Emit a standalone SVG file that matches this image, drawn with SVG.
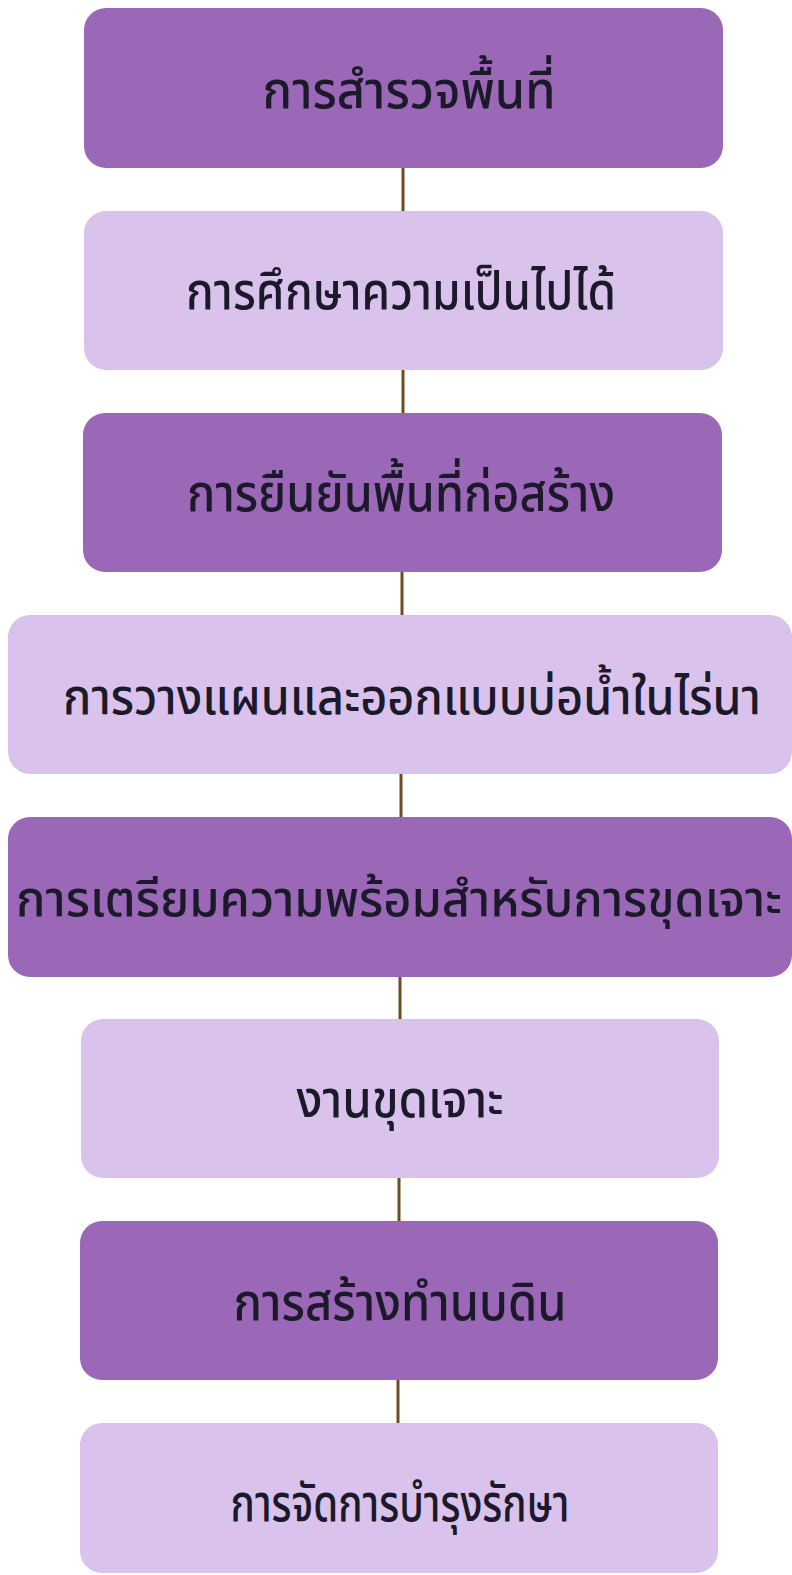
<svg xmlns="http://www.w3.org/2000/svg" width="792" height="1575" viewBox="0 0 792 1575">
<style>
.dark{fill:#9a68b6}
.light{fill:#d9c3ec}
.t{font-family:"Noto Sans Thai","Noto Sans","DejaVu Sans",sans-serif;font-size:52px;font-weight:500;fill:#1c1a2a;text-anchor:middle}
.w{font-size:49px}
.c{stroke:#6e4d22;stroke-width:3}
</style>
<rect width="792" height="1575" fill="#ffffff"/>
<g id="connectors">
<line class="c" x1="403" y1="168" x2="403" y2="211"/>
<line class="c" x1="403" y1="370" x2="403" y2="413"/>
<line class="c" x1="402" y1="572" x2="402" y2="615"/>
<line class="c" x1="401" y1="774" x2="401" y2="817"/>
<line class="c" x1="400" y1="977" x2="400" y2="1019"/>
<line class="c" x1="399" y1="1178" x2="399" y2="1221"/>
<line class="c" x1="398" y1="1380" x2="398" y2="1423"/>
</g>
<g id="n1"><rect class="dark" x="84" y="8" width="639" height="160" rx="22"/><text class="t" x="409" y="108" textLength="293" lengthAdjust="spacingAndGlyphs">การสำรวจพื้นที่</text></g>
<g id="n2"><rect class="light" x="84" y="211" width="639" height="159" rx="22"/><text class="t" x="401" y="309" textLength="430" lengthAdjust="spacingAndGlyphs">การศึกษาความเป็นไปได้</text></g>
<g id="n3"><rect class="dark" x="83" y="413" width="639" height="159" rx="22"/><text class="t" x="401" y="511" textLength="428" lengthAdjust="spacingAndGlyphs">การยืนยันพื้นที่ก่อสร้าง</text></g>
<g id="n4"><rect class="light" x="8" y="615" width="784" height="159" rx="22"/><text class="t w" x="412" y="714" textLength="698" lengthAdjust="spacingAndGlyphs">การวางแผนและออกแบบบ่อน้ำในไร่นา</text></g>
<g id="n5"><rect class="dark" x="8" y="817" width="784" height="160" rx="22"/><text class="t w" x="399" y="916" textLength="766" lengthAdjust="spacingAndGlyphs">การเตรียมความพร้อมสำหรับการขุดเจาะ</text></g>
<g id="n6"><rect class="light" x="81" y="1019" width="638" height="159" rx="22"/><text class="t" x="400" y="1117" textLength="207" lengthAdjust="spacingAndGlyphs">งานขุดเจาะ</text></g>
<g id="n7"><rect class="dark" x="80" y="1221" width="638" height="159" rx="22"/><text class="t" x="400" y="1320" textLength="333" lengthAdjust="spacingAndGlyphs">การสร้างทำนบดิน</text></g>
<g id="n8"><rect class="light" x="80" y="1423" width="638" height="150" rx="22"/><text class="t" x="400" y="1521" textLength="339" lengthAdjust="spacingAndGlyphs">การจัดการบำรุงรักษา</text></g>
</svg>
